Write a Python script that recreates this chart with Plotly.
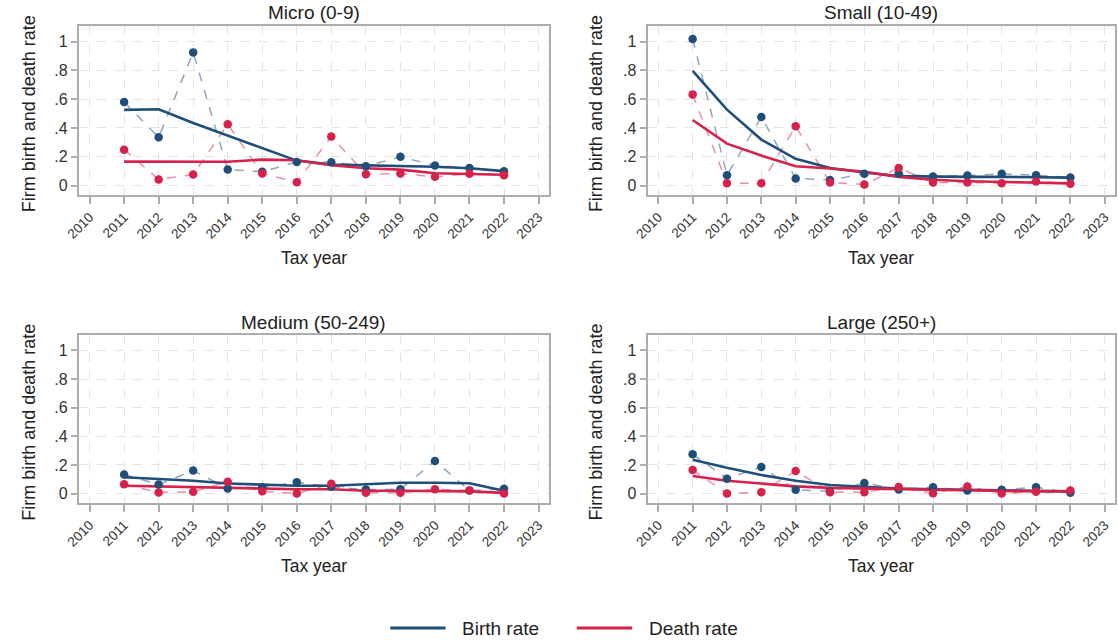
import plotly.graph_objects as go

# ---------------- data ----------------
years = [2011, 2012, 2013, 2014, 2015, 2016, 2017, 2018, 2019, 2020, 2021, 2022]
x_ticks = list(range(2010, 2024))
y_tickvals = [0, 0.2, 0.4, 0.6, 0.8, 1]
y_ticktext = ["0", ".2", ".4", ".6", ".8", "1"]
panel_titles = ["Micro (0-9)", "Small (10-49)", "Medium (50-249)", "Large (250+)"]
series_names = ["Birth rate", "Death rate"]

micro_birth = [0.58, 0.335, 0.924, 0.111, 0.095, 0.164, 0.162, 0.134, 0.199, 0.139, 0.122, 0.099]
micro_death = [0.249, 0.042, 0.076, 0.425, 0.083, 0.023, 0.34, 0.079, 0.083, 0.06, 0.081, 0.072]
micro_birth_fit = [0.525, 0.53, 0.434, 0.346, 0.26, 0.173, 0.145, 0.14, 0.14, 0.13, 0.12, 0.10]
micro_death_fit = [0.166, 0.165, 0.165, 0.165, 0.18, 0.175, 0.141, 0.12, 0.11, 0.085, 0.08, 0.075]

small_birth = [1.018, 0.072, 0.476, 0.049, 0.039, 0.081, 0.083, 0.062, 0.069, 0.081, 0.072, 0.055]
small_death = [0.633, 0.016, 0.016, 0.411, 0.021, 0.007, 0.122, 0.021, 0.021, 0.016, 0.028, 0.012]
small_birth_fit = [0.797, 0.527, 0.319, 0.185, 0.122, 0.09, 0.065, 0.06, 0.06, 0.06, 0.06, 0.055]
small_death_fit = [0.455, 0.291, 0.208, 0.134, 0.118, 0.095, 0.06, 0.04, 0.03, 0.025, 0.02, 0.015]

medium_birth = [0.133, 0.063, 0.161, 0.035, 0.044, 0.079, 0.047, 0.028, 0.03, 0.228, 0.021, 0.033]
medium_death = [0.065, 0.007, 0.012, 0.082, 0.016, 0.0, 0.068, 0.005, 0.005, 0.03, 0.021, 0.0]
medium_birth_fit = [0.114, 0.10, 0.09, 0.07, 0.06, 0.055, 0.055, 0.065, 0.075, 0.075, 0.072, 0.02]
medium_death_fit = [0.055, 0.05, 0.04, 0.035, 0.03, 0.03, 0.03, 0.02, 0.02, 0.02, 0.015, 0.005]

large_birth = [0.274, 0.104, 0.186, 0.026, 0.016, 0.074, 0.028, 0.044, 0.021, 0.026, 0.044, 0.005]
large_death = [0.165, 0.0, 0.009, 0.158, 0.009, 0.009, 0.046, 0.002, 0.049, 0.0, 0.012, 0.021]
large_birth_fit = [0.237, 0.18, 0.13, 0.09, 0.06, 0.045, 0.035, 0.03, 0.025, 0.02, 0.02, 0.015]
large_death_fit = [0.123, 0.09, 0.07, 0.05, 0.04, 0.035, 0.03, 0.025, 0.02, 0.015, 0.015, 0.015]

panels = [
    (micro_birth, micro_death, micro_birth_fit, micro_death_fit),
    (small_birth, small_death, small_birth_fit, small_death_fit),
    (medium_birth, medium_death, medium_birth_fit, medium_death_fit),
    (large_birth, large_death, large_birth_fit, large_death_fit),
]

# ---------------- style ----------------
W, H = 1118, 640
BLUE = "#1f4e79"
RED = "#d6214b"
BLUE_L = "rgba(31,78,121,0.5)"
RED_L = "rgba(214,33,75,0.5)"
FONT = "Liberation Sans, Arial, Helvetica, sans-serif"
TXT = "#222222"
BOX = "#adadad"
GRID = "#e4e4e4"

# panel plot boxes in pixels (left, right, top, bottom)
boxes = [
    (65.7, 541.7, 26, 195),
    (641.7, 1115, 26, 195),
    (65.7, 541.7, 335, 503),
    (641.7, 1115, 335, 503),
]
ytitle_x = [15, 589, 15, 589]

fig = go.Figure()
layout = dict(
    width=W, height=H,
    margin=dict(l=0, r=0, t=0, b=0),
    paper_bgcolor="white", plot_bgcolor="white",
    font=dict(family=FONT, color=TXT),
    showlegend=False,
)
annotations = []
shapes = []

for i, (b, d, bf, df) in enumerate(panels):
    k = "" if i == 0 else str(i + 1)
    xa, ya = "x" + k, "y" + k
    l, r, t, btm = boxes[i]
    # dashed observed values
    fig.add_trace(go.Scatter(x=years, y=b, xaxis=xa, yaxis=ya, mode="lines",
                             line=dict(color=BLUE_L, width=1.5, dash="dash"), hoverinfo="skip"))
    fig.add_trace(go.Scatter(x=years, y=d, xaxis=xa, yaxis=ya, mode="lines",
                             line=dict(color=RED_L, width=1.5, dash="dash"), hoverinfo="skip"))
    # smoothed lines
    fig.add_trace(go.Scatter(x=years, y=bf, xaxis=xa, yaxis=ya, mode="lines",
                             line=dict(color=BLUE, width=2.6), name=series_names[0]))
    fig.add_trace(go.Scatter(x=years, y=df, xaxis=xa, yaxis=ya, mode="lines",
                             line=dict(color=RED, width=2.6), name=series_names[1]))
    # observed markers on top
    fig.add_trace(go.Scatter(x=years, y=b, xaxis=xa, yaxis=ya, mode="markers",
                             marker=dict(color=BLUE, size=8.5), hoverinfo="skip"))
    fig.add_trace(go.Scatter(x=years, y=d, xaxis=xa, yaxis=ya, mode="markers",
                             marker=dict(color=RED, size=8.5), hoverinfo="skip"))

    layout["xaxis" + k] = dict(
        domain=[l / W, r / W], anchor=ya, range=[2009.69, 2023.3],
        tickvals=x_ticks, ticktext=[str(v) for v in x_ticks], tickangle=-45,
        tickfont=dict(size=13.5, color="#333333"),
        ticks="outside", ticklen=7, tickcolor=BOX, tickwidth=1.5,
        showline=True, mirror=True, linecolor=BOX, linewidth=2,
        showgrid=True, gridcolor=GRID, griddash="dash", gridwidth=1, zeroline=False,
    )
    layout["yaxis" + k] = dict(
        domain=[1 - btm / H, 1 - t / H], anchor=xa, range=[-0.066, 1.108],
        tickvals=y_tickvals, ticktext=y_ticktext,
        tickfont=dict(size=16, color="#333333"),
        ticks="outside", ticklen=6, tickcolor=BOX, tickwidth=1.5,
        showline=True, mirror=True, linecolor=BOX, linewidth=2,
        showgrid=True, gridcolor=GRID, griddash="dash", gridwidth=1, zeroline=False,
    )
    cx = (l + r) / 2
    annotations.append(dict(text=panel_titles[i], x=cx / W, y=1 - (t - 13) / H,
                            xref="paper", yref="paper", showarrow=False,
                            xanchor="center", yanchor="middle",
                            font=dict(size=19, color=TXT)))
    annotations.append(dict(text="Tax year", x=cx / W, y=1 - (btm + 62.5) / H,
                            xref="paper", yref="paper", showarrow=False,
                            xanchor="center", yanchor="middle",
                            font=dict(size=17.5, color=TXT)))
    annotations.append(dict(text="Firm birth and death rate", x=ytitle_x[i] / W,
                            y=1 - ((t + btm) / 2 + 3) / H, textangle=-90,
                            xref="paper", yref="paper", showarrow=False,
                            xanchor="center", yanchor="middle",
                            font=dict(size=18, color=TXT)))

# shared legend (drawn below the panels)
leg_y = 1 - 628 / H
for (x0, x1, tx), col, name in [((381, 437, 452), BLUE, series_names[0]),
                                ((570, 626, 641), RED, series_names[1])]:
    shapes.append(dict(type="line", xref="paper", yref="paper",
                       x0=x0 / W, x1=x1 / W, y0=leg_y, y1=leg_y,
                       line=dict(color=col, width=3)))
    annotations.append(dict(text=name, x=tx / W, y=leg_y, xref="paper", yref="paper",
                            showarrow=False, xanchor="left", yanchor="middle",
                            font=dict(size=19, color=TXT)))

layout["annotations"] = annotations
layout["shapes"] = shapes
fig.update_layout(**layout)
fig.write_html("out.html")
